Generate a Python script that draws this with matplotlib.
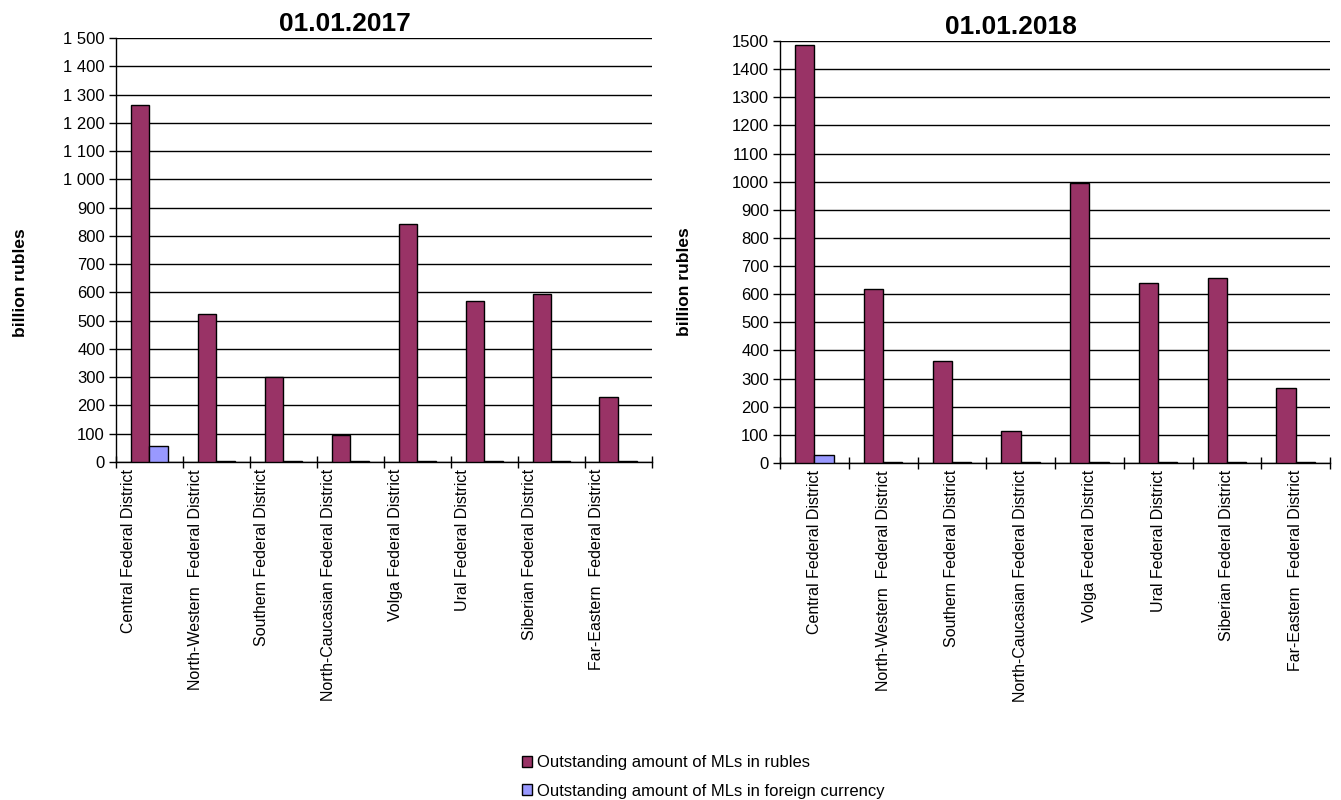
import matplotlib
matplotlib.use("Agg")
import matplotlib.pyplot as plt
from matplotlib.patches import Patch
import numpy as np

plt.rcParams['font.family'] = ['Liberation Sans', 'DejaVu Sans']

districts = ["Central Federal District", "North-Western  Federal District", "Southern Federal District",
             "North-Caucasian Federal District", "Volga Federal District", "Ural Federal District",
             "Siberian Federal District", "Far-Eastern  Federal District"]
rubles_2017 = [1262, 522, 300, 97, 842, 571, 596, 229]
foreign_2017 = [55, 5, 5, 4, 5, 5, 5, 5]
rubles_2018 = [1487, 620, 362, 113, 995, 640, 658, 265]
foreign_2018 = [28, 3, 3, 3, 3, 3, 3, 3]
yticks = list(range(0, 1501, 100))
labels_2017 = [f"{v:,}".replace(",", " ") for v in yticks]
labels_2018 = [str(v) for v in yticks]

ruble_color = "#993366"
foreign_color = "#9999FF"

fig = plt.figure(figsize=(13.41, 8), dpi=100)
ax1 = fig.add_axes([0.0865, 0.4225, 0.3995, 0.53])
ax2 = fig.add_axes([0.5817, 0.42125, 0.4101, 0.5275])

def draw(ax, rub, fx, title, ylabels, label_shift, title_x, ylab_xy):
    x = np.arange(len(districts))
    w = 0.28
    ax.bar(x - w / 2, rub, w, color=ruble_color, edgecolor="black", linewidth=1, zorder=3)
    ax.bar(x + w / 2, fx, w, color=foreign_color, edgecolor="black", linewidth=1, zorder=3)
    ax.set_xlim(-0.5, len(districts) - 0.5)
    ax.set_ylim(0, 1500)
    ax.set_yticks(yticks)
    ax.set_yticklabels(ylabels, fontsize=12)
    ax.yaxis.grid(True, color="black", linewidth=1, zorder=0)
    ax.set_axisbelow(True)
    ax.set_xticks(x + label_shift)
    ax.set_xticklabels(districts, rotation=90, fontsize=11.5, va="top", ha="center")
    ax.tick_params(axis="x", which="major", length=0, pad=5)
    ax.set_xticks(np.arange(-0.5, len(districts)), minor=True)
    ax.tick_params(axis="x", which="minor", length=8, direction="inout", width=1)
    ax.tick_params(axis="y", length=5, width=1, pad=3)
    for s in ["top", "right"]:
        ax.spines[s].set_visible(False)
    ax.spines["left"].set_linewidth(1)
    ax.spines["bottom"].set_linewidth(1)
    ax.set_title(title, fontsize=19, fontweight="bold", x=title_x, pad=5)
    ax.set_ylabel("billion rubles", fontsize=12.5, fontweight="bold")
    ax.yaxis.set_label_coords(*ylab_xy)

draw(ax1, rubles_2017, foreign_2017, "01.01.2017", labels_2017, -0.32, 0.427, (-0.165, 0.422))
draw(ax2, rubles_2018, foreign_2018, "01.01.2018", labels_2018, 0.0, 0.42, (-0.16, 0.429))

handles = [Patch(facecolor=ruble_color, edgecolor="black"),
           Patch(facecolor=foreign_color, edgecolor="black")]
fig.legend(handles, ["Outstanding amount of MLs in rubles",
                     "Outstanding amount of MLs in foreign currency"],
           loc="lower left", bbox_to_anchor=(0.378, -0.017), frameon=False, fontsize=12,
           handlelength=0.6, handleheight=0.6, handletextpad=0.3, labelspacing=0.8)

fig.savefig("out.png", dpi=100)
